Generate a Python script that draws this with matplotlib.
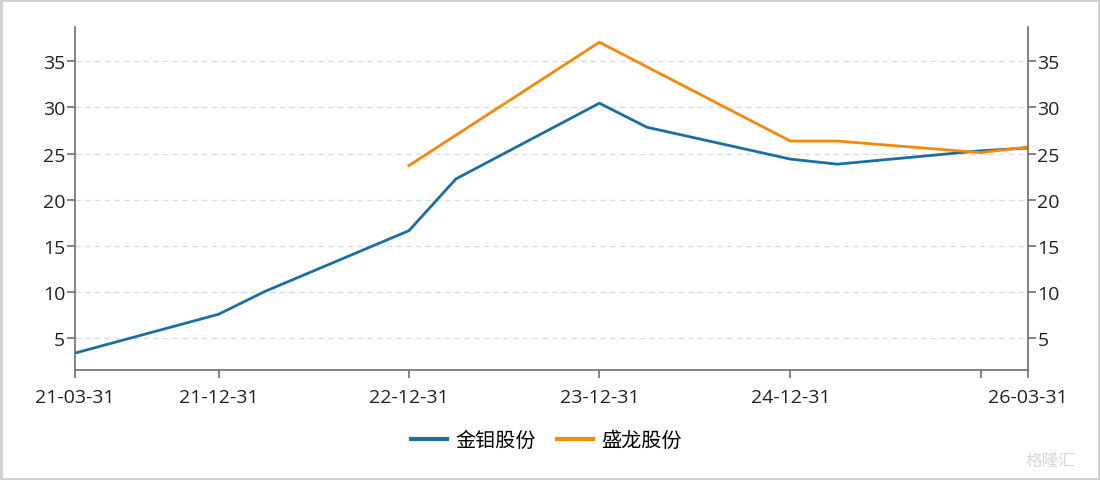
import matplotlib.pyplot as plt
import pandas as pd

plt.rcParams["font.family"] = ["Open Sans", "Noto Sans CJK SC", "DejaVu Sans"]

jinmu_dates = ["2021-03-31", "2021-12-31", "2022-03-31", "2022-12-31", "2023-03-31",
               "2023-12-31", "2024-03-31", "2024-12-31", "2025-03-31", "2025-12-31",
               "2026-03-31"]
jinmu_values = [3.4, 7.6, 10.1, 16.65, 22.25, 30.45, 27.85, 24.4, 23.85, 25.3, 25.6]

shenglong_dates = ["2022-12-31", "2023-12-31", "2024-12-31", "2025-03-31",
                   "2025-12-31", "2026-03-31"]
shenglong_values = [23.7, 37.05, 26.35, 26.35, 25.1, 25.7]

tick_dates = ["2021-03-31", "2021-12-31", "2022-12-31", "2023-12-31", "2024-12-31",
              "2025-12-31", "2026-03-31"]
tick_labels = ["21-03-31", "21-12-31", "22-12-31", "23-12-31", "24-12-31", "", "26-03-31"]
y_ticks = [5, 10, 15, 20, 25, 30, 35]

BLUE = "#1b6fa0"
ORANGE = "#f5880f"
AXIS = "#6e6e6e"

fig = plt.figure(figsize=(11, 4.81), dpi=100)
ax = fig.add_axes([0.0682, 0.2293, 0.8661, 0.7125])

ax.plot(pd.to_datetime(jinmu_dates), jinmu_values, color=BLUE, lw=2, label="金钼股份")
ax.plot(pd.to_datetime(shenglong_dates), shenglong_values, color=ORANGE, lw=2,
        label="盛龙股份")

ax.set_xlim(pd.Timestamp("2021-03-31"), pd.Timestamp("2026-03-31"))
ax.set_ylim(1.6, 38.7)
ax.set_xticks(pd.to_datetime(tick_dates))
ax.set_xticklabels(tick_labels)
ax.set_yticks(y_ticks)
ax.yaxis.grid(True, ls=(0, (4, 3)), color="#dcdcdc", lw=1)
ax.set_axisbelow(True)

for side in ["left", "right", "bottom"]:
    ax.spines[side].set_color(AXIS)
    ax.spines[side].set_linewidth(1.2)
ax.spines["top"].set_visible(False)

ax.tick_params(axis="both", colors=AXIS, labelcolor="#222222", labelsize=14,
               length=6, width=1.2)
ax.tick_params(axis="x", pad=7)
ax.tick_params(axis="y", pad=1, right=True, labelright=True)

leg = ax.legend(loc="center", bbox_to_anchor=(0.497, 0.083), ncol=2,
                frameon=False, handlelength=1.75, columnspacing=1.05, handletextpad=0.45,
                bbox_transform=fig.transFigure,
                prop={"family": ["Noto Sans CJK SC"], "size": 14.5})
for line in leg.get_lines():
    line.set_linewidth(3)

fig.text(0.955, 0.04, "格隆汇", color="#d8d8d8", fontsize=12, ha="center", va="center",
         family=["Noto Sans CJK SC"])

border = plt.Rectangle((0.001, 0.002), 0.998, 0.996, transform=fig.transFigure,
                       fill=False, ec="#cfcfcf", lw=2)
fig.patches.append(border)

fig.savefig("out.png", dpi=100)
